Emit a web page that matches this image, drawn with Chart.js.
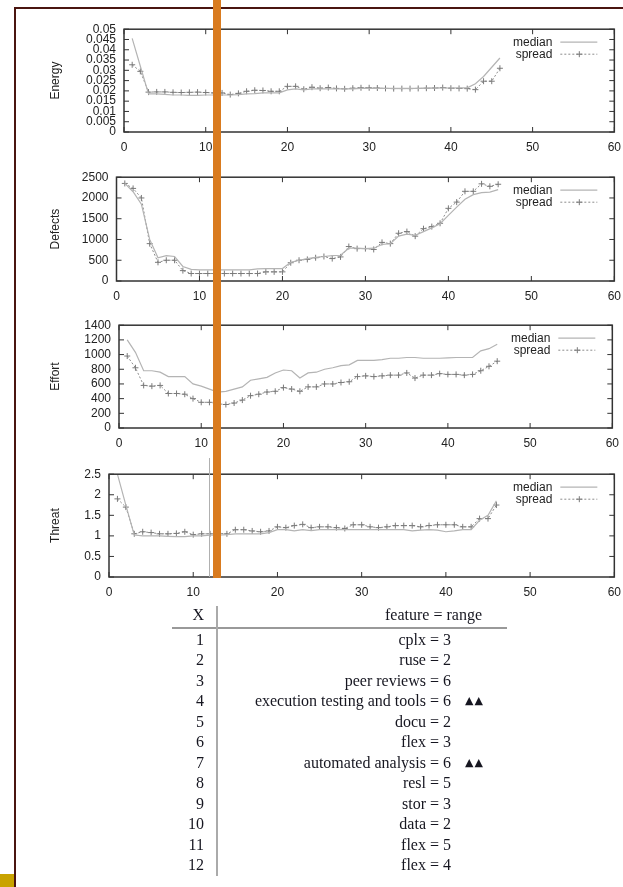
<!DOCTYPE html>
<html lang="en">
<head>
<meta charset="UTF-8">
<title>Energy, Defects, Effort, Threat</title>
<style>
  body { margin: 0; width: 623px; height: 887px; position: relative; background: #fff; overflow: hidden; }
  .panel { position: absolute; }
  .frame-top { position: absolute; left: 14px; top: 7px; width: 609px; height: 2px; background: #4a1510; }
  .frame-left { position: absolute; left: 14px; top: 7px; width: 2px; height: 880px; background: #4a1510; }
  .gold { position: absolute; left: 0; top: 874px; width: 14px; height: 13px; background: #c9a300; }
  .bar { position: absolute; left: 213px; top: 0; width: 8px; height: 578px; background: #d97b1f; z-index: 5; }
  .cursor { position: absolute; left: 209px; top: 458px; width: 1px; height: 119px; background: #b0b0b0; z-index: 4; }
  .cell { position: absolute; height: 20px; line-height: 20px; white-space: nowrap;
          font-family: "Liberation Serif", "Times New Roman", serif; font-size: 16px; color: #161620; }
  .mark { font-family: "DejaVu Sans", sans-serif; font-size: 11px; letter-spacing: 1px; }
  .hrule { position: absolute; left: 172px; top: 627px; width: 335px; height: 2px; background: #999; }
  .vrule { position: absolute; left: 216px; top: 606px; width: 2px; height: 270px; background: #aaa; }
</style>
</head>
<body>
<div class="frame-top"></div>
<div class="frame-left"></div>
<div class="gold"></div>
<div class="bar"></div>
<div class="cursor"></div>

<div class="panel" id="p0"><canvas id="c0"></canvas></div>
<div class="panel" id="p1"><canvas id="c1"></canvas></div>
<div class="panel" id="p2"><canvas id="c2"></canvas></div>
<div class="panel" id="p3"><canvas id="c3"></canvas></div>

<div class="hrule"></div>
<div class="vrule"></div>
<div id="table"></div>

<script src="https://cdn.jsdelivr.net/npm/chart.js"></script>
<script>
// x positions (number of fixed features)
const xs = [1, 2, 3, 4, 5, 6, 7, 8, 9, 10, 11, 12, 13, 14, 15, 16, 17, 18, 19, 20, 21, 22, 23,
            24, 25, 26, 27, 28, 29, 30, 31, 32, 33, 34, 35, 36, 37, 38, 39, 40, 41, 42, 43, 44, 45, 46];

const energyMedian = [0.0455, 0.032, 0.0185, 0.0185, 0.0183, 0.018, 0.018, 0.0178, 0.0178, 0.018,
  0.018, 0.018, 0.018, 0.0182, 0.0185, 0.0187, 0.019, 0.019, 0.019, 0.0205, 0.021, 0.0205, 0.021,
  0.021, 0.021, 0.021, 0.021, 0.021, 0.0212, 0.0212, 0.0212, 0.0212, 0.0212, 0.0212, 0.0212, 0.0212,
  0.0213, 0.0213, 0.0214, 0.0214, 0.0215, 0.0215, 0.0235, 0.027, 0.0315, 0.036];
const energySpread = [0.0327, 0.0295, 0.0194, 0.0195, 0.0195, 0.0193, 0.0192, 0.0193, 0.0194, 0.0192,
  0.019, 0.019, 0.0182, 0.0188, 0.0198, 0.0203, 0.0202, 0.0198, 0.0198, 0.0222, 0.0222, 0.0208, 0.0218,
  0.0213, 0.0216, 0.0212, 0.021, 0.0213, 0.0215, 0.0215, 0.0214, 0.0212, 0.0211, 0.0211, 0.0211, 0.0212,
  0.0213, 0.0214, 0.0216, 0.0213, 0.0212, 0.0211, 0.0206, 0.0247, 0.0247, 0.031];

const defectsMedian = [2350, 2150, 1850, 1000, 560, 610, 590, 350, 280, 270, 270, 270, 270, 270, 270,
  270, 290, 300, 300, 300, 450, 500, 540, 570, 590, 610, 620, 790, 790, 780, 790, 880, 900, 1080, 1130,
  1100, 1190, 1280, 1380, 1580, 1780, 1970, 2080, 2130, 2140, 2200];
const defectsSpread = [2350, 2230, 2000, 900, 450, 500, 500, 250, 180, 180, 180, 180, 180, 180, 180,
  180, 180, 220, 220, 220, 440, 500, 520, 560, 590, 540, 580, 830, 780, 780, 760, 930, 900, 1150, 1190,
  1080, 1260, 1310, 1390, 1750, 1900, 2160, 2160, 2340, 2280, 2330];

const effortMedian = [1200, 1030, 780, 780, 760, 700, 700, 700, 600, 570, 530, 490, 500, 530, 560, 650,
  670, 690, 750, 790, 780, 680, 750, 760, 800, 820, 850, 860, 920, 920, 920, 930, 950, 950, 960, 960,
  950, 950, 950, 955, 960, 960, 960, 1050, 1080, 1140];
const effortSpread = [980, 820, 580, 570, 580, 470, 470, 460, 400, 350, 350, 330, 320, 340, 380, 440,
  460, 490, 500, 550, 530, 500, 560, 560, 600, 600, 620, 630, 700, 710, 700, 710, 720, 720, 750, 680,
  720, 720, 740, 730, 730, 720, 730, 780, 840, 910];

const threatMedian = [2.5, 1.75, 1.02, 1.0, 1.0, 1.0, 0.99, 0.98, 0.98, 1.0, 1.0, 1.02, 1.02, 1.03,
  1.05, 1.05, 1.05, 1.05, 1.08, 1.15, 1.15, 1.12, 1.15, 1.13, 1.15, 1.15, 1.15, 1.15, 1.15, 1.15, 1.15,
  1.15, 1.15, 1.15, 1.15, 1.12, 1.14, 1.15, 1.14, 1.1, 1.12, 1.15, 1.15, 1.38, 1.5, 1.85];
const threatSpread = [1.9, 1.7, 1.05, 1.1, 1.08, 1.05, 1.05, 1.06, 1.1, 1.03, 1.05, 1.05, 1.06, 1.05,
  1.15, 1.15, 1.12, 1.1, 1.12, 1.22, 1.2, 1.25, 1.28, 1.2, 1.22, 1.22, 1.2, 1.18, 1.27, 1.27, 1.22,
  1.2, 1.22, 1.25, 1.25, 1.25, 1.22, 1.25, 1.27, 1.27, 1.27, 1.22, 1.22, 1.42, 1.42, 1.75];

const seriesNames = ['median', 'spread'];

// table below the plots
const rowNums = ['1', '2', '3', '4', '5', '6', '7', '8', '9', '10', '11', '12'];
const features = ['cplx = 3', 'ruse = 2', 'peer reviews = 6', 'execution testing and tools = 6',
  'docu = 2', 'flex = 3', 'automated analysis = 6', 'resl = 5', 'stor = 3', 'data = 2',
  'flex = 5', 'flex = 4'];
const marks = ['', '', '', '▲▲', '', '', '▲▲', '', '', '', '', ''];

// panel placement: [left, top, width, height], y-axis width
const panels = [
  { title: 'Energy',  median: energyMedian,  spread: energySpread,  max: 0.05, step: 0.005, box: [30, 14, 599, 148], yw: 94 },
  { title: 'Defects', median: defectsMedian, spread: defectsSpread, max: 2500, step: 500,   box: [30, 162, 599, 149], yw: 86.5 },
  { title: 'Effort',  median: effortMedian,  spread: effortSpread,  max: 1400, step: 200,   box: [30, 310, 597, 148], yw: 89 },
  { title: 'Threat',  median: threatMedian,  spread: threatSpread,  max: 2.5,  step: 0.5,   box: [30, 459, 599, 148], yw: 79 }
];

const FONT = '"Liberation Sans", Arial, sans-serif';
const INK = '#222';

// gnuplot-ish frame: box, inward ticks on all sides, legend inside top right
const gnuFrame = {
  id: 'gnuFrame',
  afterDatasetsDraw(chart) {
    const { ctx, chartArea: a, scales: { x, y } } = chart;
    ctx.save();
    ctx.strokeStyle = '#333';
    ctx.lineWidth = 1;
    ctx.beginPath();
    x.ticks.forEach(t => {
      const px = x.getPixelForValue(t.value);
      ctx.moveTo(px, a.bottom); ctx.lineTo(px, a.bottom - 5);
      ctx.moveTo(px, a.top); ctx.lineTo(px, a.top + 5);
    });
    y.ticks.forEach(t => {
      const py = y.getPixelForValue(t.value);
      ctx.moveTo(a.left, py); ctx.lineTo(a.left + 5, py);
      ctx.moveTo(a.right, py); ctx.lineTo(a.right - 5, py);
    });
    ctx.stroke();
    ctx.lineWidth = 1.5;
    ctx.strokeRect(a.left, a.top, a.right - a.left, a.bottom - a.top);

    // legend
    ctx.font = '12px ' + FONT;
    ctx.fillStyle = INK;
    ctx.textAlign = 'right';
    ctx.textBaseline = 'middle';
    chart.data.datasets.forEach((ds, i) => {
      const ly = a.top + 13 + i * 12;
      ctx.fillText(ds.label, a.right - 62, ly);
      ctx.strokeStyle = ds.borderColor;
      ctx.lineWidth = ds.borderWidth;
      ctx.setLineDash(ds.borderDash || []);
      ctx.beginPath();
      ctx.moveTo(a.right - 54, ly); ctx.lineTo(a.right - 17, ly);
      ctx.stroke();
      ctx.setLineDash([]);
      if (ds.pointRadius) {
        const cx = a.right - 35;
        ctx.strokeStyle = ds.pointBorderColor;
        ctx.lineWidth = 1;
        ctx.beginPath();
        ctx.moveTo(cx - 3, ly); ctx.lineTo(cx + 3, ly);
        ctx.moveTo(cx, ly - 3); ctx.lineTo(cx, ly + 3);
        ctx.stroke();
      }
    });
    ctx.restore();
  }
};

function pts(vals) {
  return xs.map((x, i) => ({ x: x, y: vals[i] }));
}

panels.forEach((p, k) => {
  const wrap = document.getElementById('p' + k);
  wrap.style.left = p.box[0] + 'px';
  wrap.style.top = p.box[1] + 'px';
  wrap.style.width = p.box[2] + 'px';
  wrap.style.height = p.box[3] + 'px';

  new Chart(document.getElementById('c' + k), {
    type: 'line',
    data: {
      datasets: [
        {
          label: seriesNames[0],
          data: pts(p.median),
          borderColor: '#b4b4b4',
          borderWidth: 1.2,
          pointRadius: 0,
          tension: 0
        },
        {
          label: seriesNames[1],
          data: pts(p.spread),
          borderColor: '#8c8c8c',
          borderWidth: 1,
          borderDash: [2, 2],
          pointStyle: 'cross',
          pointRadius: 3,
          pointBorderColor: '#7a7a7a',
          pointBorderWidth: 1,
          tension: 0
        }
      ]
    },
    options: {
      responsive: true,
      maintainAspectRatio: false,
      animation: false,
      devicePixelRatio: 1,
      layout: { padding: { left: 0, top: 10, right: 9, bottom: 0 } },
      plugins: { legend: { display: false }, tooltip: { enabled: false } },
      scales: {
        x: {
          type: 'linear',
          min: 0,
          max: 60,
          grid: { display: false, drawTicks: false },
          border: { display: false },
          ticks: { stepSize: 10, padding: 8, color: INK, font: { family: FONT, size: 12 }, maxRotation: 0 },
          afterFit(scale) { scale.height = 30; }
        },
        y: {
          min: 0,
          max: p.max,
          grid: { display: false, drawTicks: false },
          border: { display: false },
          title: { display: true, text: p.title, color: INK, font: { family: FONT, size: 12 }, padding: { top: 18, bottom: 0 } },
          ticks: {
            stepSize: p.step,
            autoSkip: false,
            padding: 8,
            color: INK,
            font: { family: FONT, size: 12 },
            callback: v => String(+v.toFixed(4))
          },
          afterFit(scale) { scale.width = p.yw; }
        }
      }
    },
    plugins: [gnuFrame]
  });
});

// table
const table = document.getElementById('table');
function cell(text, y, right, left, cls) {
  const d = document.createElement('div');
  d.className = 'cell' + (cls ? ' ' + cls : '');
  d.textContent = text;
  d.style.top = (y - 10) + 'px';
  if (right !== null) d.style.right = (623 - right) + 'px';
  if (left !== null) d.style.left = left + 'px';
  table.appendChild(d);
}
cell('X', 615, 204, null);
cell('feature = range', 615, 482, null);
rowNums.forEach((n, i) => {
  const y = 640 + i * 20.45;
  cell(n, y, 204, null);
  cell(features[i], y, 451, null);
  if (marks[i]) cell(marks[i], y, null, 465, 'mark');
});
</script>
</body>
</html>
